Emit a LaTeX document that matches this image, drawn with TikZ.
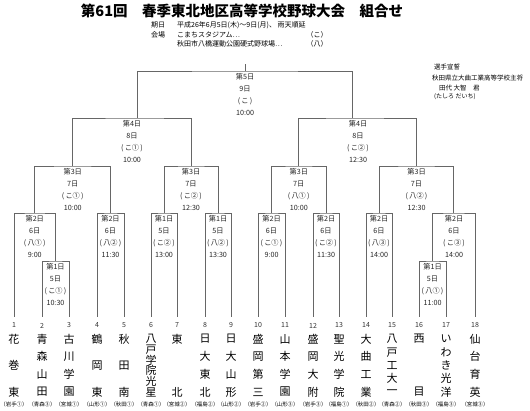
\documentclass[tikz,border=0pt]{standalone}
\usepackage{fontspec}
\setmainfont{Noto Sans CJK JP}
\newcommand{\mlab}[7]{%
  \node[lbl] (#1-a) at (#2,#3+6) {#4};
  \node[lbl] (#1-b) at (#2,#3+18) {#5};
  \node[lbl] (#1-c) at (#2,#3+30) {#6};
  \node[lbl] (#1-d) at (#2,#3+42) {#7};
}
\newcommand{\pp}[1]{(\kern1.2pt#1\kern1.2pt)}
\newcommand{\teamcol}[5]{%
  \coordinate (e#1) at (#2,317);
  \node[num] (n#1) at (#2,325.5) {#1};
  \foreach \c [count=\i] in {#4} {
    \node[tname] (t#1-\i) at (#2,{339+(\i-1)*53/(#3-1)}) {\c};
  }
  \node[pref] (p#1) at (#2,404) {#5};
}
\begin{document}
\begin{tikzpicture}[x=1pt,y=-1pt,
  ln/.style={draw=black!60, line width=0.7pt},
  lbl/.style={font=\fontsize{7.2}{8}\selectfont, text=black!85, inner sep=0},
  num/.style={font=\fontsize{7}{8}\selectfont, text=black!80, inner sep=0},
  tname/.style={font=\fontsize{11}{12}\selectfont, inner sep=0},
  pref/.style={font=\fontsize{5.4}{6}\selectfont, inner sep=0},
  info/.style={font=\fontsize{7}{8}\selectfont, inner sep=0, anchor=west},
  note/.style={font=\fontsize{6.5}{8}\selectfont, inner sep=0, anchor=west}]
\useasboundingbox[fill=white] (0,0) rectangle (530,411);

% title and info
\node[font=\bfseries\fontsize{14.5}{16}\selectfont, inner sep=0] (title) at (242,11) {第61回　春季東北地区高等学校野球大会　組合せ};
\node[info] (i1a) at (151,25) {期日};
\node[info] (i1b) at (177,25) {平成26年6月5日(木)～9日(月)、 雨天順延};
\node[info] (i2a) at (151,35) {会場};
\node[info] (i2b) at (177,35) {こまちスタジアム…};
\node[info, anchor=center] (i2c) at (317,35) {（こ）};
\node[info] (i3b) at (177,44) {秋田市八橋運動公園硬式野球場…};
\node[info, anchor=center] (i3c) at (317,44) {（八）};

\node[note] (s1) at (434,67) {選手宣誓};
\node[note] (s2) at (432,78) {秋田県立大曲工業高等学校主将};
\node[note] (s3) at (439,88) {田代 大智　君};
\node[note, font=\fontsize{6}{7}\selectfont] (s4) at (434,97) {(たしろ だいち)};

% teams
\teamcol{1}{14}{3}{花,巻,東}{（岩手①）}
\teamcol{2}{42}{4}{青,森,山,田}{（青森③）}
\teamcol{3}{69}{4}{古,川,学,園}{（宮城①）}
\teamcol{4}{97}{3}{鶴,岡,東}{（山形①）}
\teamcol{5}{124}{3}{秋,田,南}{（秋田①）}
\teamcol{6}{151}{6}{八,戸,学,院,光,星}{（青森①）}
\teamcol{7}{177}{2}{東,北}{（宮城②）}
\teamcol{8}{205}{4}{日,大,東,北}{（福島②）}
\teamcol{9}{231}{4}{日,大,山,形}{（山形②）}
\teamcol{10}{258}{4}{盛,岡,第,三}{（岩手②）}
\teamcol{11}{285}{4}{山,本,学,園}{（山形③）}
\teamcol{12}{313}{4}{盛,岡,大,附}{（岩手③）}
\teamcol{13}{339}{4}{聖,光,学,院}{（福島①）}
\teamcol{14}{366}{4}{大,曲,工,業}{（秋田②）}
\teamcol{15}{392}{5}{八,戸,工,大,一}{（青森②）}
\teamcol{16}{419}{2}{西,目}{（秋田③）}
\teamcol{17}{446}{5}{い,わ,き,光,洋}{（福島③）}
\teamcol{18}{475}{4}{仙,台,育,英}{（宮城③）}

% match points
\coordinate (m1a) at (55.5,261);
\coordinate (m2a) at (34.75,213);
\coordinate (m2b) at (110.5,213);
\coordinate (m1b) at (164,213);
\coordinate (m1c) at (218,213);
\coordinate (m2c) at (271.5,213);
\coordinate (m2d) at (326,213);
\coordinate (m2e) at (379,213);
\coordinate (m1d) at (432.5,261);
\coordinate (m2f) at (453.75,213);
\coordinate (m3a) at (72.75,166);
\coordinate (m3b) at (191,166);
\coordinate (m3c) at (298.75,166);
\coordinate (m3d) at (416.4,166);
\coordinate (m4a) at (137.5,118);
\coordinate (m4b) at (352.5,118);
\coordinate (m5) at (245,71);
\coordinate (top) at (245,64);

% brackets
\draw[ln] (e2) |- (m1a) -| (e3);
\draw[ln] (e1) |- (m2a) -| (m1a);
\draw[ln] (e4) |- (m2b) -| (e5);
\draw[ln] (e6) |- (m1b) -| (e7);
\draw[ln] (e8) |- (m1c) -| (e9);
\draw[ln] (e10) |- (m2c) -| (e11);
\draw[ln] (e12) |- (m2d) -| (e13);
\draw[ln] (e14) |- (m2e) -| (e15);
\draw[ln] (e16) |- (m1d) -| (e17);
\draw[ln] (m1d) |- (m2f) -| (e18);
\draw[ln] (m2a) |- (m3a) -| (m2b);
\draw[ln] (m1b) |- (m3b) -| (m1c);
\draw[ln] (m2c) |- (m3c) -| (m2d);
\draw[ln] (m2e) |- (m3d) -| (m2f);
\draw[ln] (m3a) |- (m4a) -| (m3b);
\draw[ln] (m3c) |- (m4b) -| (m3d);
\draw[ln] (m4a) |- (m5) -| (m4b);
\draw[ln] (m5) -- (top);

% match labels
\mlab{M1a}{55.5}{261}{第1日}{5日}{\pp{こ①}}{10:30}
\mlab{M2a}{34.75}{213}{第2日}{6日}{\pp{八①}}{9:00}
\mlab{M2b}{110.5}{213}{第2日}{6日}{\pp{八②}}{11:30}
\mlab{M1b}{164}{213}{第1日}{5日}{\pp{こ②}}{13:00}
\mlab{M1c}{218}{213}{第1日}{5日}{\pp{八②}}{13:30}
\mlab{M2c}{271.5}{213}{第2日}{6日}{\pp{こ①}}{9:00}
\mlab{M2d}{326}{213}{第2日}{6日}{\pp{こ②}}{11:30}
\mlab{M2e}{379}{213}{第2日}{6日}{\pp{八③}}{14:00}
\mlab{M1d}{432.5}{261}{第1日}{5日}{\pp{八①}}{11:00}
\mlab{M2f}{454}{213}{第2日}{6日}{\pp{こ③}}{14:00}
\mlab{M3a}{72.75}{166}{第3日}{7日}{\pp{こ①}}{10:00}
\mlab{M3b}{191}{166}{第3日}{7日}{\pp{こ②}}{12:30}
\mlab{M3c}{298.75}{166}{第3日}{7日}{\pp{八①}}{10:00}
\mlab{M3d}{416.5}{166}{第3日}{7日}{\pp{八②}}{12:30}
\mlab{M4a}{132}{118}{第4日}{8日}{\pp{こ①}}{10:00}
\mlab{M4b}{358}{118}{第4日}{8日}{\pp{こ②}}{12:30}
\mlab{M5}{245}{71}{第5日}{9日}{\pp{こ}}{10:00}
\end{tikzpicture}
\end{document}
